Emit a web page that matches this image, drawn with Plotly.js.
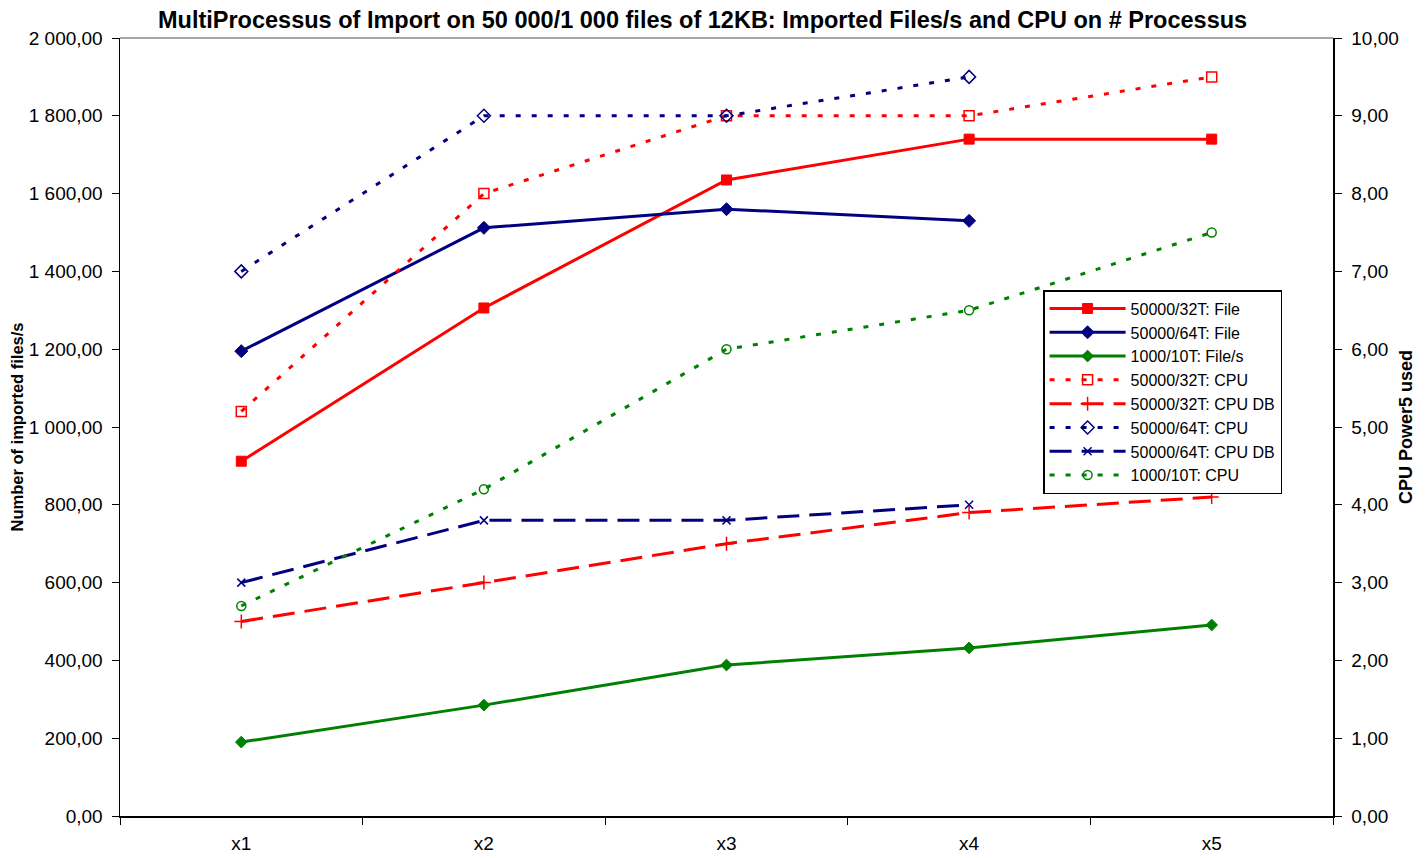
<!DOCTYPE html>
<html>
<head>
<meta charset="utf-8">
<script src="https://cdn.plot.ly/plotly-3.0.1.min.js"></script>
<style>html,body{margin:0;padding:0;background:#fff;}#chart{width:1428px;height:858px;}</style>
</head>
<body>
<div id="chart"></div>
<script>
const categories = ["x1", "x2", "x3", "x4", "x5"];
const file32 = [912, 1306, 1635, 1740, 1740];
const file64 = [1195, 1512, 1560, 1530];
const file10 = [190, 285, 388, 432, 491];
const cpu32 = [5.2, 8.0, 9.0, 9.0, 9.5];
const cpuDb32 = [2.5, 3.0, 3.5, 3.9, 4.1];
const cpu64 = [7.0, 9.0, 9.0, 9.5];
const cpuDb64 = [3.0, 3.8, 3.8, 4.0];
const cpu10 = [2.7, 4.2, 6.0, 6.5, 7.5];

const RED = "#FF0000", NAVY = "#000080", GREEN = "#008000";
const dotted = "5px,11px", longDash = "22px,10px";

function tr(name, y, axis, color, dash, symbol, size, lw) {
  return {
    type: "scatter", mode: "lines+markers", name: name,
    x: categories.slice(0, y.length), y: y, yaxis: axis,
    line: {color: color, width: 3, dash: dash},
    marker: {symbol: symbol, size: size, color: color, line: {color: color, width: lw || 1}}
  };
}

const data = [
  tr("50000/32T: File", file32, "y", RED, "solid", "square", 10),
  tr("50000/64T: File", file64, "y", NAVY, "solid", "diamond", 10),
  tr("1000/10T: File/s", file10, "y", GREEN, "solid", "diamond", 9),
  tr("50000/32T: CPU", cpu32, "y2", RED, dotted, "square-open", 10, 1.5),
  tr("50000/32T: CPU DB", cpuDb32, "y2", RED, longDash, "cross-thin-open", 10, 1.5),
  tr("50000/64T: CPU", cpu64, "y2", NAVY, dotted, "diamond-open", 10, 1.5),
  tr("50000/64T: CPU DB", cpuDb64, "y2", NAVY, longDash, "x-thin-open", 8, 1.5),
  tr("1000/10T: CPU", cpu10, "y2", GREEN, dotted, "circle-open", 9, 1.5)
];

const font = {family: "Liberation Sans, Arial, sans-serif", color: "#000"};
const tickFont = Object.assign({size: 19}, font);

const layout = {
  width: 1428, height: 858,
  margin: {l: 120, r: 95, t: 38, b: 42},
  paper_bgcolor: "#fff", plot_bgcolor: "#fff",
  separators: ", ",
  font: Object.assign({size: 19}, font),
  showlegend: true,
  title: {text: "<b>MultiProcessus of Import on 50 000/1 000 files of 12KB: Imported Files/s and CPU on # Processus</b>",
          font: Object.assign({size: 23.5}, font), x: 0.492, xanchor: "center", y: 0.977, yanchor: "middle"},
  xaxis: {type: "category", range: [-0.5, 4.5], showline: true, linecolor: "#000", linewidth: 1.5,
          ticks: "outside", ticklen: 7, tickcolor: "#000", tickson: "boundaries", ticklabelstandoff: 10,
          showgrid: false, zeroline: false, tickfont: tickFont, automargin: false},
  yaxis: {range: [0, 2000], dtick: 200, tickformat: ",.2f", showline: true, linecolor: "#000", linewidth: 1.5,
          ticks: "outside", ticklen: 7, tickcolor: "#000", showgrid: false, zeroline: false,
          ticklabelstandoff: 5, tickfont: tickFont, automargin: false,
          title: {text: "<b>Number of imported files/s</b>", font: Object.assign({size: 16.5}, font), standoff: 1}},
  yaxis2: {range: [0, 10], dtick: 1, tickformat: ".2f", overlaying: "y", side: "right", showline: true,
           linecolor: "#000", linewidth: 1.5, ticks: "outside", ticklen: 7, tickcolor: "#000",
           ticklabelstandoff: 6, automargin: false,
           showgrid: false, zeroline: false, tickfont: tickFont,
           title: {text: "<b>CPU Power5 used</b>", font: Object.assign({size: 18}, font), standoff: 1}},
  legend: {x: 0.761, y: 0.676, xanchor: "left", yanchor: "top", bgcolor: "#fff",
           bordercolor: "#000", borderwidth: 1.5, font: Object.assign({size: 16}, font),
           tracegroupgap: 0, itemwidth: 76},
  shapes: [{type: "line", xref: "paper", yref: "paper", x0: 0, x1: 1, y0: 1, y1: 1,
            line: {color: "#888", width: 1.5}}]
};

Plotly.newPlot("chart", data, layout, {displayModeBar: false, staticPlot: true});
</script>
</body>
</html>
